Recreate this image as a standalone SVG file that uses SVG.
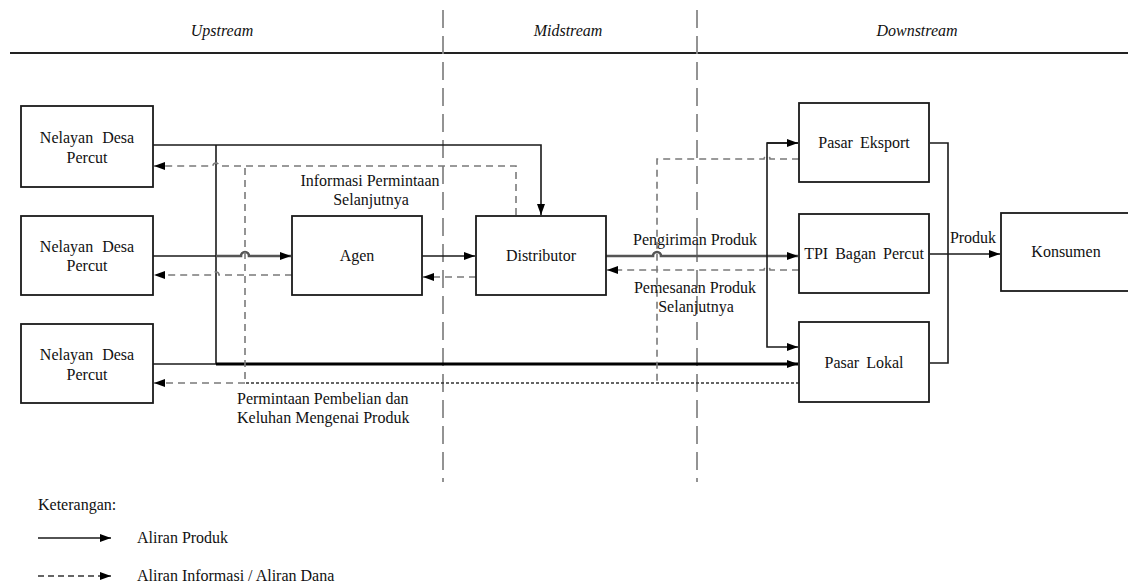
<svg xmlns="http://www.w3.org/2000/svg" width="1128" height="585" viewBox="0 0 1128 585">
<style>
text{font-family:"Times New Roman",Tinos,"Liberation Serif","Noto Serif","DejaVu Serif",serif;font-size:16px;fill:#111}
.c{text-anchor:middle}
.hd{font-style:italic}
.box{fill:#fff;stroke:#1a1a1a;stroke-width:1.8}
.ln{fill:none;stroke:#1a1a1a;stroke-width:1.6}
.gl{fill:none;stroke:#555;stroke-width:2.6}
.tk{fill:none;stroke:#000;stroke-width:3.2}
.ds{fill:none;stroke:#7a7a7a;stroke-width:1.6;stroke-dasharray:7 5}
.dd{fill:none;stroke:#333;stroke-width:1.3;stroke-dasharray:3 2}
.div{fill:none;stroke:#888;stroke-width:1.8;stroke-dasharray:18 8}
</style>
<defs>
<marker id="ah" markerUnits="userSpaceOnUse" markerWidth="12" markerHeight="10" refX="11" refY="4" orient="auto">
<path d="M0,0 L11,4 L0,8 Z" fill="#000"/>
</marker>
</defs>
<rect width="1128" height="585" fill="#fff"/>
<g id="header">
<line x1="10" y1="53" x2="1128" y2="53" stroke="#222" stroke-width="1.8"/>
<line class="div" x1="443" y1="10" x2="443" y2="482"/>
<line class="div" x1="697" y1="10" x2="697" y2="482"/>
<text class="c hd" x="222" y="36">Upstream</text>
<text class="c hd" x="568" y="36">Midstream</text>
<text class="c hd" x="917" y="36">Downstream</text>
</g>
<g id="connectors">
<path class="ln" d="M153,145 H541 V215" marker-end="url(#ah)"/>
<path class="ln" d="M216,145 V364"/>
<path class="ln" d="M153,256 H216"/>
<path class="gl" d="M216,256 H241 A4,4 0 0 1 249,256 H291" marker-end="url(#ah)"/>
<path class="ln" d="M153,364 H216"/>
<path class="tk" d="M216,364 H798" marker-end="url(#ah)"/>
<path class="ln" d="M422,256 H475" marker-end="url(#ah)"/>
<path class="gl" d="M606,256 H653 A4,4 0 0 1 661,256 H798" marker-end="url(#ah)"/>
<path class="ln" d="M798,143 H767 V347 H798" marker-end="url(#ah)"/>
<path class="ln" d="M767,143 H798" marker-end="url(#ah)"/>
<path class="ln" d="M930,143 H948 V363 H930"/>
<path class="ln" d="M930,254 H1000" marker-end="url(#ah)"/>
<path class="ds" d="M516,215 V166 H219 A3,3 0 0 0 213,166 H154" marker-end="url(#ah)"/>
<path class="ds" d="M245,168 V383"/>
<path class="ds" d="M292,275 H219 A3,3 0 0 0 213,275 H154" marker-end="url(#ah)"/>
<path class="ds" d="M476,277 H423" marker-end="url(#ah)"/>
<path class="ds" d="M799,159 H770 A3,3 0 0 0 764,159 H657 V383"/>
<path class="ds" d="M799,270 H770 A3,3 0 0 0 764,270 H607" marker-end="url(#ah)"/>
<path class="dd" d="M799,383 H245"/>
<path class="ds" d="M245,383 H154" marker-end="url(#ah)"/>
</g>
<g id="labels">
<text class="c" x="370" y="186">Informasi Permintaan</text>
<text class="c" x="371" y="205">Selanjutnya</text>
<text class="c" x="695" y="245">Pengiriman Produk</text>
<text class="c" x="695" y="293">Pemesanan Produk</text>
<text class="c" x="696" y="312">Selanjutnya</text>
<text class="c" x="973" y="243">Produk</text>
<text x="237" y="404">Permintaan Pembelian dan</text>
<text x="237" y="423">Keluhan Mengenai Produk</text>
</g>
<g id="nelayan1">
<rect class="box" x="21" y="106" width="132" height="81"/>
<text class="c" x="87" y="143" word-spacing="5">Nelayan Desa</text>
<text class="c" x="87" y="163">Percut</text>
</g>
<g id="nelayan2">
<rect class="box" x="21" y="216" width="132" height="79"/>
<text class="c" x="87" y="252" word-spacing="5">Nelayan Desa</text>
<text class="c" x="87" y="271">Percut</text>
</g>
<g id="nelayan3">
<rect class="box" x="21" y="324" width="132" height="79"/>
<text class="c" x="87" y="360" word-spacing="5">Nelayan Desa</text>
<text class="c" x="87" y="380">Percut</text>
</g>
<g id="agen">
<rect class="box" x="292" y="216" width="130" height="79"/>
<text class="c" x="357" y="261">Agen</text>
</g>
<g id="distributor">
<rect class="box" x="476" y="216" width="130" height="79"/>
<text class="c" x="541" y="261">Distributor</text>
</g>
<g id="pasar-eksport">
<rect class="box" x="799" y="103" width="130" height="79"/>
<text class="c" x="864" y="148" word-spacing="3">Pasar Eksport</text>
</g>
<g id="tpi">
<rect class="box" x="799" y="214" width="130" height="79"/>
<text class="c" x="864" y="259" word-spacing="3">TPI Bagan Percut</text>
</g>
<g id="pasar-lokal">
<rect class="box" x="799" y="322" width="130" height="80"/>
<text class="c" x="864" y="368" word-spacing="3">Pasar Lokal</text>
</g>
<g id="konsumen">
<rect class="box" x="1001" y="213" width="132" height="78"/>
<text class="c" x="1066" y="257">Konsumen</text>
</g>
<g id="legend">
<text x="38" y="510">Keterangan:</text>
<line class="ln" x1="38" y1="538" x2="111" y2="538" marker-end="url(#ah)"/>
<text x="137" y="543">Aliran Produk</text>
<line x1="38" y1="576" x2="111" y2="576" stroke="#333" stroke-width="1.3" stroke-dasharray="6 4" marker-end="url(#ah)"/>
<text x="137" y="581">Aliran Informasi / Aliran Dana</text>
</g>
</svg>
